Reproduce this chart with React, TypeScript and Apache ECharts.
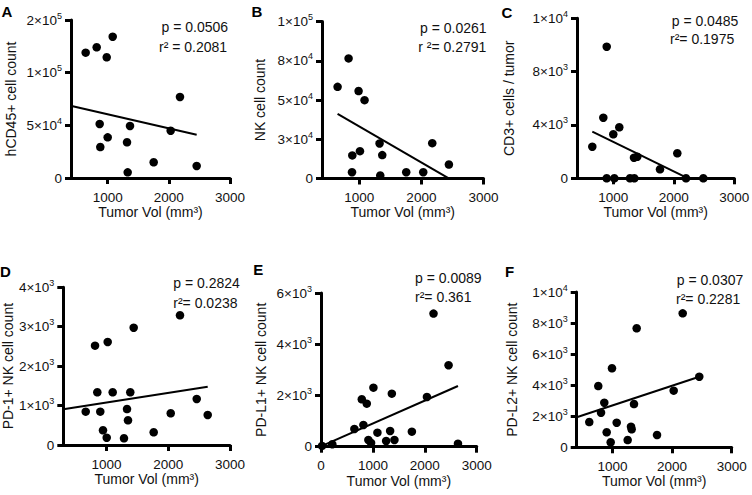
import React, { useEffect, useRef } from "react";
import * as echarts from "echarts";

const FONT = "'Liberation Sans', Arial, Helvetica, sans-serif";
const INK = "#000000";
const TXT = "#111111";

// ---------- data ----------
const xTicksMain = [1000, 2000, 3000];
const xTicksE = [0, 1000, 2000, 3000];

// A: hCD45+ cell count
const xA = [640, 820, 1082, 984, 869, 879, 1000, 1365, 1316, 1327, 1752, 2030, 2182, 2455];
const yA = [119000, 124100, 134100, 114600, 51300, 29400, 38600, 49400, 33900, 5400, 14900, 44900, 76900, 11400];
const fitA = [[411, 68350], [2455, 41100]];
const yLabelsA = ["0", "5×10^4", "1×10^5", "2×10^5"];

// B: NK cell count
const xB = [828, 651, 989, 1085, 888, 1011, 1327, 1370, 883, 1338, 1756, 2030, 2175, 2443];
const yB = [76500, 58400, 55700, 49900, 14700, 17400, 22300, 14900, 4000, 1900, 4000, 4000, 22500, 8900];
const fitB = [[651, 41200], [2427, 400]];
const yLabelsB = ["0", "3×10^4", "5×10^4", "8×10^4", "1×10^5"];

// C: CD3+ cells / tumor
const xC = [891, 835, 1000, 1099, 653, 1342, 1397, 1772, 2058, 891, 1017, 1276, 1347, 2202, 2488];
const yC = [9870, 4545, 3300, 3825, 2370, 1545, 1620, 675, 1875, 0, 0, 0, 0, 0, 0];
const fitC = [[653, 3500], [2185, 100]];
const yLabelsC = ["0", "4×10^3", "8×10^3", "1×10^4"];

// D: PD-1+ NK cell count
const xD = [663, 814, 851, 899, 943, 1003, 1019, 1100, 1283, 1332, 1348, 1385, 1440, 1764, 2040, 2190, 2461, 2639];
const yD = [845, 2519, 1337, 845, 373, 185, 2613, 1337, 170, 913, 627, 1337, 2975, 322, 804, 3290, 1167, 761];
const fitD = [[300, 905], [2639, 1479]];
const yLabelsD = ["0", "1×10^3", "2×10^3", "3×10^3", "4×10^3"];

// E: PD-L1+ NK cell count
const xE = [20, 218, 643, 817, 786, 882, 1010, 913, 965, 1087, 1255, 1332, 1365, 1415, 1751, 2041, 2168, 2458, 2639];
const yE = [30, 94, 691, 848, 1852, 1680, 2305, 262, 145, 547, 223, 613, 2070, 262, 586, 1941, 5195, 3180, 117];
const fitE = [[20, 30], [2639, 2371]];
const yLabelsE = ["0", "2×10^3", "4×10^3", "6×10^3"];

// F: PD-L2+ NK cell count
const xF = [611, 762, 808, 863, 903, 970, 992, 1071, 1255, 1311, 1322, 1361, 1406, 1747, 2027, 2178, 2456];
const yF = [1629, 3947, 2228, 2872, 966, 322, 5087, 1584, 470, 1326, 1159, 2788, 7663, 792, 3645, 8628, 4546];
const fitF = [[400, 1932], [2456, 4546]];
const yLabelsF = ["0", "2×10^3", "4×10^3", "6×10^3", "8×10^3", "1×10^4"];

const xName = "Tumor Vol (mm³)";

// ---------- panel layout ----------
const panels = [
  { letter: "A", yName: "hCD45+ cell count", x: xA, y: yA, fit: fitA, yMax: 150000, yStep: 50000, yLabels: yLabelsA, xMin: 400, xTicks: xTicksMain, p: "p = 0.0506", r: "r² = 0.2081",
    box: { left: 71, top: 20, width: 159, height: 158 }, letterAt: [1.5, 11.5], pAt: [161.5, 26.7], rAt: [159, 46.7], nameGap: 53 },
  { letter: "B", yName: "NK cell count", x: xB, y: yB, fit: fitB, yMax: 100000, yStep: 25000, yLabels: yLabelsB, xMin: 400, xTicks: xTicksMain, p: "p = 0.0261", r: "r ²= 0.2791",
    box: { left: 322, top: 21.5, width: 161.5, height: 157 }, letterAt: [251.5, 11.7], pAt: [420, 28.3], rAt: [418.3, 46.7], nameGap: 55 },
  { letter: "C", yName: "CD3+ cells / tumor", x: xC, y: yC, fit: fitC, yMax: 12000, yStep: 4000, yLabels: yLabelsC, xMin: 400, xTicks: xTicksMain, p: "p = 0.0485", r: "r²= 0.1975",
    box: { left: 577, top: 18.3, width: 157.3, height: 160 }, letterAt: [501.5, 12.5], pAt: [671.7, 21], rAt: [670, 39], nameGap: 61 },
  { letter: "D", yName: "PD-1+ NK cell count", x: xD, y: yD, fit: fitD, yMax: 4000, yStep: 1000, yLabels: yLabelsD, xMin: 300, xTicks: xTicksMain, p: "p = 0.2824", r: "r²= 0.0238",
    box: { left: 63.3, top: 287.3, width: 166.7, height: 157.7 }, letterAt: [0, 271], pAt: [173.3, 283], rAt: [173.3, 303.3], nameGap: 47 },
  { letter: "E", yName: "PD-L1+ NK cell count", x: xE, y: yE, fit: fitE, yMax: 6000, yStep: 2000, yLabels: yLabelsE, xMin: 0, xTicks: xTicksE, p: "p = 0.0089", r: "r²= 0.361",
    box: { left: 321, top: 293, width: 155.7, height: 153.7 }, letterAt: [253.3, 269.5], pAt: [415, 278.3], rAt: [415, 296.7], nameGap: 53 },
  { letter: "F", yName: "PD-L2+ NK cell count", x: xF, y: yF, fit: fitF, yMax: 10000, yStep: 2000, yLabels: yLabelsF, xMin: 400, xTicks: xTicksMain, p: "p = 0.0307", r: "r²= 0.2281",
    box: { left: 576.7, top: 292, width: 155, height: 155.3 }, letterAt: [505, 271], pAt: [676.7, 280.3], rAt: [676, 298.8], nameGap: 58 },
];

function buildOption() {
  const grid: any[] = [];
  const xAxis: any[] = [];
  const yAxis: any[] = [];
  const series: any[] = [];
  const graphic: any[] = [];

  panels.forEach((pn, i) => {
    grid.push({ ...pn.box, containLabel: false, outerBoundsMode: "none" });
    xAxis.push({
      type: "value",
      gridIndex: i,
      min: pn.xMin,
      max: 3000,
      name: xName,
      nameLocation: "middle",
      nameGap: 24,
      nameTextStyle: { fontFamily: FONT, fontSize: 14, color: TXT, verticalAlign: "top" },
      splitLine: { show: false },
      axisLine: { show: true, onZero: false, lineStyle: { color: INK, width: 3 } },
      axisTick: { show: true, length: 6, customValues: pn.xTicks, lineStyle: { color: INK, width: 3 } },
      axisLabel: {
        customValues: pn.xTicks,
        margin: 12,
        fontFamily: FONT,
        fontSize: 13.5,
        color: TXT,
        formatter: (v: number) => String(v),
      },
    });
    const labels = pn.yLabels;
    const step = pn.yStep;
    yAxis.push({
      type: "value",
      gridIndex: i,
      min: 0,
      max: pn.yMax,
      interval: pn.yStep,
      name: pn.yName,
      nameLocation: "middle",
      nameGap: pn.nameGap,
      nameTextStyle: { fontFamily: FONT, fontSize: 14, color: TXT },
      splitLine: { show: false },
      axisLine: { show: true, onZero: false, lineStyle: { color: INK, width: 3 } },
      axisTick: { show: true, length: 6, lineStyle: { color: INK, width: 3 } },
      axisLabel: {
        margin: 9,
        formatter: (v: number) => {
          const lab = labels[Math.round(v / step)] ?? "";
          const parts = lab.split("^");
          return parts.length > 1 ? `{b|${parts[0]}}{s|${parts[1]}}` : `{b|${parts[0]}}`;
        },
        rich: {
          b: { fontFamily: FONT, fontSize: 13.5, color: TXT, lineHeight: 18 },
          s: { fontFamily: FONT, fontSize: 9, color: TXT, lineHeight: 10, verticalAlign: "top" },
        },
      },
    });
    series.push({
      type: "line",
      xAxisIndex: i,
      yAxisIndex: i,
      data: pn.fit,
      showSymbol: false,
      symbol: "none",
      silent: true,
      lineStyle: { color: INK, width: 2, opacity: 1 },
      z: 2,
    });
    series.push({
      type: "scatter",
      xAxisIndex: i,
      yAxisIndex: i,
      data: pn.x.map((v, k) => [v, pn.y[k]]),
      symbol: "circle",
      symbolSize: 8.5,
      itemStyle: { color: INK, opacity: 1 },
      z: 3,
    });
    graphic.push({
      type: "text",
      x: pn.letterAt[0],
      y: pn.letterAt[1],
      style: { text: pn.letter, font: `bold 15px ${FONT}`, fill: INK, align: "left", verticalAlign: "middle" },
    });
    graphic.push({
      type: "text",
      x: pn.pAt[0],
      y: pn.pAt[1],
      style: { text: pn.p, font: `14px ${FONT}`, fill: TXT, align: "left", verticalAlign: "middle" },
    });
    graphic.push({
      type: "text",
      x: pn.rAt[0],
      y: pn.rAt[1],
      style: { text: pn.r, font: `14px ${FONT}`, fill: TXT, align: "left", verticalAlign: "middle" },
    });
  });

  return {
    animation: false,
    backgroundColor: "#ffffff",
    textStyle: { fontFamily: FONT },
    grid,
    xAxis,
    yAxis,
    series,
    graphic,
  };
}

export default function App() {
  const ref = useRef<HTMLDivElement | null>(null);
  useEffect(() => {
    if (!ref.current) return;
    const chart = echarts.init(ref.current, undefined, { renderer: "svg" });
    chart.setOption(buildOption() as any);
    return () => chart.dispose();
  }, []);
  return (
    <div
      ref={ref}
      style={{ position: "fixed", left: 0, top: 0, width: 752, height: 495, background: "#fff" }}
    />
  );
}
